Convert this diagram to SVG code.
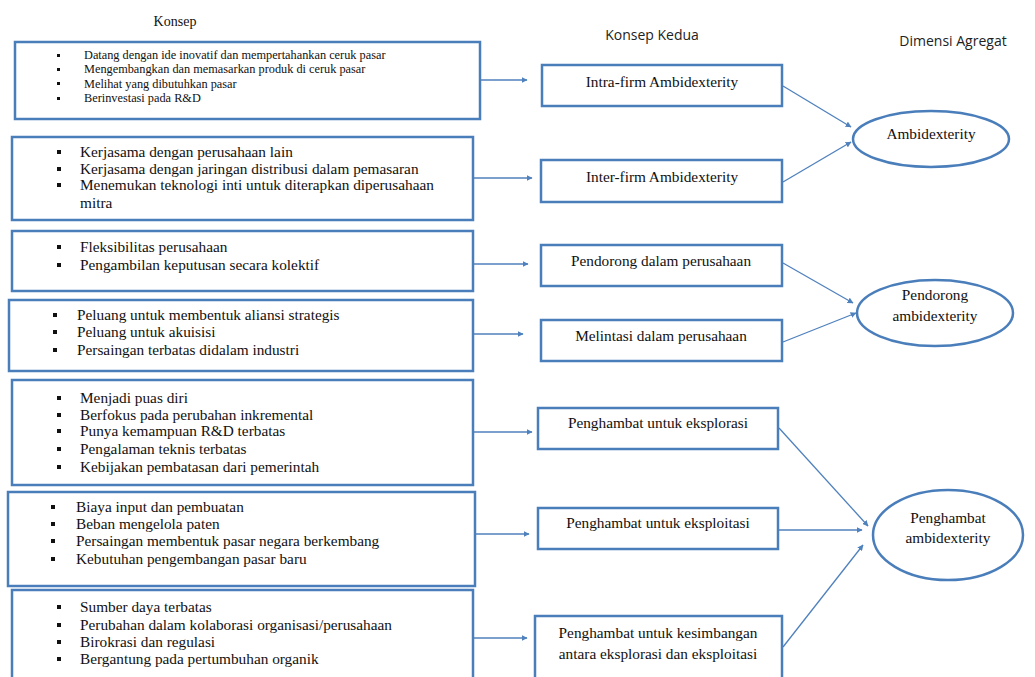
<svg xmlns="http://www.w3.org/2000/svg" width="1035" height="677" viewBox="0 0 1035 677">
<defs>
<style>
.box{fill:#fff;stroke:#4a7ebb;stroke-width:2.5}
.ell{fill:#fff;stroke:#4a7ebb;stroke-width:2.5}
.t{font-family:"Liberation Serif","Times New Roman",serif;font-size:15.3px;fill:#111}
.s{font-family:"Liberation Serif","Times New Roman",serif;font-size:12.3px;fill:#111}
.m{text-anchor:middle}
.h{font-family:"Open Sans","Liberation Sans",sans-serif;font-size:14px;fill:#222}
.b{fill:#111}
.c{stroke:#4f81bd;stroke-width:1.3;fill:none;marker-end:url(#ah)}
</style>
<marker id="ah" viewBox="0 0 10 10" refX="9" refY="5" markerWidth="6" markerHeight="6" orient="auto" markerUnits="userSpaceOnUse"><path d="M0,0 L10,5 L0,10 z" fill="#4f81bd"/></marker>
</defs>
<rect width="1035" height="677" fill="#fff"/>
<g id="headers">
<text class="t" x="175" y="26" text-anchor="middle" style="font-size:14px">Konsep</text>
<text class="h" x="652" y="40" text-anchor="middle">Konsep Kedua</text>
<text class="h" x="953" y="46" text-anchor="middle">Dimensi Agregat</text>
</g>
<g id="k1">
<rect class="box" x="15" y="42" width="465" height="77"/>
<rect class="b" x="57" y="54" width="3" height="3"/><rect class="b" x="57" y="68" width="3" height="3"/><rect class="b" x="57" y="82" width="3" height="3"/><rect class="b" x="57" y="97" width="3" height="3"/>
<text class="s" x="84" y="59">Datang dengan ide inovatif dan mempertahankan ceruk pasar</text>
<text class="s" x="84" y="73">Mengembangkan dan memasarkan produk di ceruk pasar</text>
<text class="s" x="84" y="88">Melihat yang dibutuhkan pasar</text>
<text class="s" x="84" y="102">Berinvestasi pada R&amp;D</text>
</g>
<g id="k2">
<rect class="box" x="12" y="137" width="461" height="83"/>
<rect class="b" x="57" y="150" width="4" height="4"/><rect class="b" x="57" y="167" width="4" height="4"/><rect class="b" x="57" y="183" width="4" height="4"/>
<text class="t" x="80" y="157">Kerjasama dengan perusahaan lain</text>
<text class="t" x="80" y="174">Kerjasama dengan jaringan distribusi dalam pemasaran</text>
<text class="t" x="80" y="190">Menemukan teknologi inti untuk diterapkan diperusahaan</text>
<text class="t" x="80" y="208">mitra</text>
</g>
<g id="k3">
<rect class="box" x="12" y="231" width="461" height="60"/>
<rect class="b" x="57" y="245" width="4" height="4"/><rect class="b" x="57" y="263" width="4" height="4"/>
<text class="t" x="80" y="252">Fleksibilitas perusahaan</text>
<text class="t" x="80" y="270">Pengambilan keputusan secara kolektif</text>
</g>
<g id="k4">
<rect class="box" x="9" y="300" width="464" height="71"/>
<rect class="b" x="53" y="313" width="4" height="4"/><rect class="b" x="53" y="330" width="4" height="4"/><rect class="b" x="53" y="348" width="4" height="4"/>
<text class="t" x="77" y="320">Peluang untuk membentuk aliansi strategis</text>
<text class="t" x="77" y="337">Peluang untuk akuisisi</text>
<text class="t" x="77" y="355">Persaingan terbatas didalam industri</text>
</g>
<g id="k5">
<rect class="box" x="12" y="380" width="461" height="105"/>
<rect class="b" x="57" y="396" width="4" height="4"/><rect class="b" x="57" y="413" width="4" height="4"/><rect class="b" x="57" y="429" width="4" height="4"/><rect class="b" x="57" y="447" width="4" height="4"/><rect class="b" x="57" y="465" width="4" height="4"/>
<text class="t" x="80" y="403">Menjadi puas diri</text>
<text class="t" x="80" y="420">Berfokus pada perubahan inkremental</text>
<text class="t" x="80" y="436">Punya kemampuan R&amp;D terbatas</text>
<text class="t" x="80" y="454">Pengalaman teknis terbatas</text>
<text class="t" x="80" y="472">Kebijakan pembatasan dari pemerintah</text>
</g>
<g id="k6">
<rect class="box" x="8" y="492" width="467" height="94"/>
<rect class="b" x="51" y="505" width="4" height="4"/><rect class="b" x="51" y="522" width="4" height="4"/><rect class="b" x="51" y="539" width="4" height="4"/><rect class="b" x="51" y="557" width="4" height="4"/>
<text class="t" x="76" y="512">Biaya input dan pembuatan</text>
<text class="t" x="76" y="529">Beban mengelola paten</text>
<text class="t" x="76" y="546">Persaingan membentuk pasar negara berkembang</text>
<text class="t" x="76" y="564">Kebutuhan pengembangan pasar baru</text>
</g>
<g id="k7">
<rect class="box" x="12" y="590" width="461" height="95"/>
<rect class="b" x="57" y="605" width="4" height="4"/><rect class="b" x="57" y="623" width="4" height="4"/><rect class="b" x="57" y="640" width="4" height="4"/><rect class="b" x="57" y="657" width="4" height="4"/>
<text class="t" x="80" y="612">Sumber daya terbatas</text>
<text class="t" x="80" y="630">Perubahan dalam kolaborasi organisasi/perusahaan</text>
<text class="t" x="80" y="647">Birokrasi dan regulasi</text>
<text class="t" x="80" y="664">Bergantung pada pertumbuhan organik</text>
</g>
<g id="m1"><rect class="box" x="542" y="65" width="240" height="41"/><text class="t m" x="662" y="87">Intra-firm Ambidexterity</text></g>
<g id="m2"><rect class="box" x="541" y="160" width="241" height="42"/><text class="t m" x="662" y="182">Inter-firm Ambidexterity</text></g>
<g id="m3"><rect class="box" x="541" y="245" width="241" height="41"/><text class="t m" x="661" y="266">Pendorong dalam perusahaan</text></g>
<g id="m4"><rect class="box" x="541" y="320" width="241" height="41"/><text class="t m" x="661" y="341">Melintasi dalam perusahaan</text></g>
<g id="m5"><rect class="box" x="538" y="408" width="240" height="41"/><text class="t m" x="658" y="428">Penghambat untuk eksplorasi</text></g>
<g id="m6"><rect class="box" x="538" y="508" width="240" height="41"/><text class="t m" x="658" y="528">Penghambat untuk eksploitasi</text></g>
<g id="m7"><rect class="box" x="535" y="616" width="247" height="70"/><text class="t m" x="658" y="638">Penghambat untuk kesimbangan</text><text class="t m" x="658" y="659">antara eksplorasi dan eksploitasi</text></g>
<g id="d1"><ellipse class="ell" cx="931" cy="139" rx="78" ry="28"/><text class="t m" x="931" y="139">Ambidexterity</text></g>
<g id="d2"><ellipse class="ell" cx="935" cy="313" rx="78" ry="33"/><text class="t m" x="935" y="300">Pendorong</text><text class="t m" x="935" y="321">ambidexterity</text></g>
<g id="d3"><ellipse class="ell" cx="948" cy="535" rx="75" ry="45"/><text class="t m" x="948" y="523">Penghambat</text><text class="t m" x="948" y="543">ambidexterity</text></g>
<g id="connectors">
<line class="c" x1="481" y1="80" x2="527" y2="80"/>
<line class="c" x1="474" y1="178" x2="532" y2="178"/>
<line class="c" x1="474" y1="264" x2="528" y2="264"/>
<line class="c" x1="474" y1="334" x2="523" y2="334"/>
<line class="c" x1="474" y1="432" x2="532" y2="432"/>
<line class="c" x1="476" y1="534" x2="529" y2="534"/>
<line class="c" x1="474" y1="638" x2="527" y2="638"/>
<line class="c" x1="783" y1="86" x2="851" y2="127"/>
<line class="c" x1="783" y1="182" x2="851" y2="142"/>
<line class="c" x1="783" y1="263" x2="853" y2="303"/>
<line class="c" x1="783" y1="342" x2="856" y2="313"/>
<line class="c" x1="779" y1="428" x2="868" y2="526"/>
<line class="c" x1="779" y1="530" x2="862" y2="530"/>
<line class="c" x1="783" y1="647" x2="863" y2="545"/>
</g>
</svg>
